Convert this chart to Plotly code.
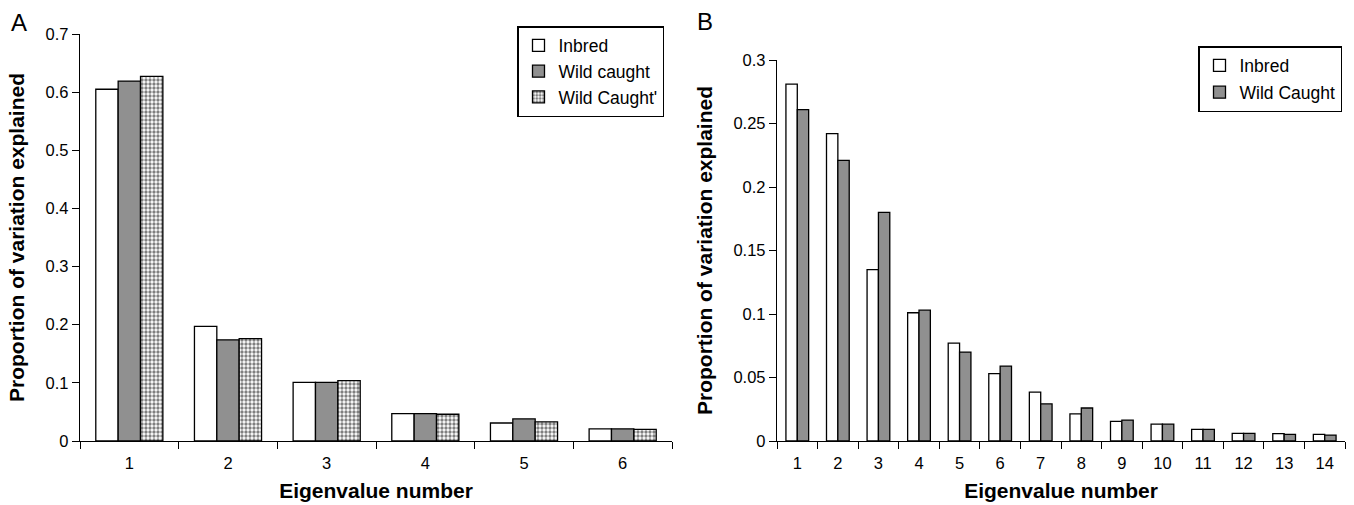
import plotly.graph_objects as go

# ---- Data ----
a_categories = ["1", "2", "3", "4", "5", "6"]
a_inbred = [0.605, 0.197, 0.101, 0.047, 0.031, 0.021]
a_wild = [0.619, 0.174, 0.101, 0.047, 0.038, 0.021]
a_wild_prime = [0.627, 0.176, 0.104, 0.046, 0.033, 0.020]

b_categories = [str(i) for i in range(1, 15)]
b_inbred = [0.281, 0.242, 0.135, 0.101, 0.077, 0.053, 0.0385, 0.0214,
            0.0154, 0.0133, 0.0092, 0.006, 0.0058, 0.0052]
b_wild = [0.261, 0.221, 0.180, 0.103, 0.070, 0.059, 0.0293, 0.026,
          0.0165, 0.0133, 0.0092, 0.006, 0.0052, 0.0047]

a_yticks = [0, 0.1, 0.2, 0.3, 0.4, 0.5, 0.6, 0.7]
a_yticklabels = ["0", "0.1", "0.2", "0.3", "0.4", "0.5", "0.6", "0.7"]
b_yticks = [0, 0.05, 0.1, 0.15, 0.2, 0.25, 0.3]
b_yticklabels = ["0", "0.05", "0.1", "0.15", "0.2", "0.25", "0.3"]

GRAY = "#909090"
FONT = "Liberation Sans, Arial, sans-serif"
W, H = 1354, 505

def px_x(p):
    return p / W

def px_y(p):
    return 1 - p / H

line = dict(color="black", width=1.3)
B_BAR_W = 0.28

fig = go.Figure()
fig.add_trace(go.Bar(x=a_categories, y=a_inbred, name="Inbred",
                     marker=dict(color="white", line=line),
                     xaxis="x", yaxis="y", legend="legend", legendgroup="a1"))
fig.add_trace(go.Bar(x=a_categories, y=a_wild, name="Wild caught",
                     marker=dict(color=GRAY, line=line),
                     xaxis="x", yaxis="y", legend="legend", legendgroup="a2"))
fig.add_trace(go.Bar(x=a_categories, y=a_wild_prime, name="Wild Caught'",
                     marker=dict(color="white", line=line,
                                 pattern=dict(shape=".", fgcolor="black", bgcolor="white",
                                              size=4, solidity=0.55)),
                     xaxis="x", yaxis="y", legend="legend", legendgroup="a3"))
fig.add_trace(go.Bar(x=b_categories, y=b_inbred, name="Inbred",
                     marker=dict(color="white", line=line),
                     width=B_BAR_W, offset=-B_BAR_W,
                     xaxis="x2", yaxis="y2", legend="legend2", legendgroup="b1"))
fig.add_trace(go.Bar(x=b_categories, y=b_wild, name="Wild Caught",
                     marker=dict(color=GRAY, line=line),
                     width=B_BAR_W, offset=0,
                     xaxis="x2", yaxis="y2", legend="legend2", legendgroup="b2"))

tickfont = dict(family=FONT, size=16.5, color="black")
titlefont = dict(family=FONT, size=21, color="black", weight="bold")

common_x = dict(type="category", showline=True, linecolor="black", linewidth=1.3,
                ticks="outside", tickson="boundaries", ticklen=7, tickcolor="black",
                tickwidth=1.3, showgrid=False, zeroline=False, tickfont=tickfont,
                automargin=False, ticklabelstandoff=7,
                title=dict(text="Eigenvalue number", font=titlefont, standoff=12))
common_y = dict(showline=True, linecolor="black", linewidth=1.3, ticks="outside",
                ticklen=7, tickcolor="black", tickwidth=1.3, showgrid=False,
                zeroline=False, tickfont=tickfont, automargin=False,
                title=dict(text="Proportion of variation explained", font=titlefont, standoff=15))

legend_font = dict(family=FONT, size=17.5, color="black")

fig.update_layout(
    width=W, height=H,
    margin=dict(l=0, r=0, t=0, b=0, autoexpand=False),
    paper_bgcolor="white", plot_bgcolor="white",
    barmode="group", bargap=0.32, bargroupgap=0,
    font=dict(family=FONT, color="black"),
    xaxis=dict(common_x, domain=[px_x(80), px_x(672)], anchor="y"),
    yaxis=dict(common_y, domain=[px_y(441), px_y(34)], range=[0, 0.7], anchor="x",
               tickvals=a_yticks, ticktext=a_yticklabels),
    xaxis2=dict(common_x, domain=[px_x(777), px_x(1345)], anchor="y2"),
    yaxis2=dict(common_y, domain=[px_y(441), px_y(60)], range=[0, 0.3], anchor="x2",
                tickvals=b_yticks, ticktext=b_yticklabels),
    legend=dict(x=px_x(664), y=px_y(26), xanchor="right", yanchor="top",
                bordercolor="black", borderwidth=1.5, bgcolor="white",
                font=legend_font, traceorder="grouped", tracegroupgap=0, itemwidth=30),
    legend2=dict(x=px_x(1342), y=px_y(46), xanchor="right", yanchor="top",
                 bordercolor="black", borderwidth=1.5, bgcolor="white",
                 font=legend_font, traceorder="grouped", tracegroupgap=1, itemwidth=30),
    annotations=[
        dict(text="A", x=px_x(9), y=px_y(22), xref="paper", yref="paper",
             xanchor="left", yanchor="middle", showarrow=False,
             font=dict(family=FONT, size=24, color="black")),
        dict(text="B", x=px_x(695), y=px_y(21), xref="paper", yref="paper",
             xanchor="left", yanchor="middle", showarrow=False,
             font=dict(family=FONT, size=24, color="black")),
    ],
)

# remove the default page margin so the figure fills the window exactly
fig.write_html("out.html", config={"displayModeBar": False},
               post_script="document.body.style.margin='0px';document.body.style.overflow='hidden';")
